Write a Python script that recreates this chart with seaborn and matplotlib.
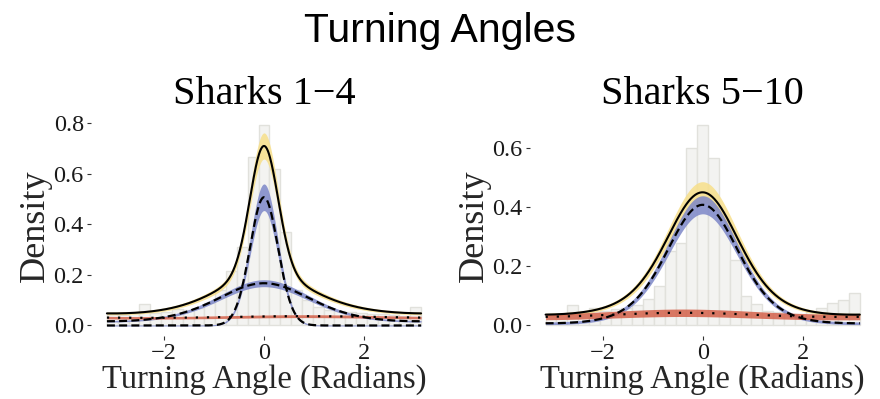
import numpy as np
import pandas as pd
import matplotlib
matplotlib.use("Agg")
import matplotlib.pyplot as plt
import seaborn as sns

# ---------------- data ----------------
panel_titles = ["Sharks 1\u22124", "Sharks 5\u221210"]
x_ticks = [-2, 0, 2]
y_ticks_1 = [0.0, 0.2, 0.4, 0.6, 0.8]
y_ticks_2 = [0.0, 0.2, 0.4, 0.6]

# histogram densities, 29 bins centred on 0 spanning [-pi, pi]
hist_density_1 = [0.045, 0.042, 0.048, 0.085, 0.050, 0.055, 0.065, 0.060, 0.070, 0.090,
                  0.140, 0.216, 0.312, 0.668, 0.793, 0.619, 0.371, 0.140, 0.100, 0.075,
                  0.060, 0.058, 0.055, 0.050, 0.045, 0.045, 0.040, 0.038, 0.072]
hist_density_2 = [0.035, 0.040, 0.068, 0.042, 0.060, 0.050, 0.055, 0.060, 0.070, 0.090,
                  0.135, 0.250, 0.280, 0.600, 0.677, 0.566, 0.338, 0.220, 0.100, 0.073,
                  0.050, 0.045, 0.040, 0.040, 0.045, 0.060, 0.075, 0.085, 0.109]

# fitted von Mises mixture components: weight, mean, concentration, band (rel, abs)
comp_kind_1 = ["blue", "blue", "red"]
comp_weight_1 = [0.359, 0.452, 0.21]
comp_mu_1 = [0.0, 0.0, 0.8]
comp_kappa_1 = [12.8, 1.15, 0.1]
comp_band_rel_1 = [0.10, 0.07, 0.10]
comp_band_abs_1 = [0.002, 0.002, 0.002]
total_band_rel_1 = 0.07
total_band_abs_1 = 0.002

comp_kind_2 = ["blue", "red"]
comp_weight_2 = [0.79, 0.223]
comp_mu_2 = [0.0, -0.4]
comp_kappa_2 = [2.0, 0.2]
comp_band_rel_2 = [0.065, 0.20]
comp_band_abs_2 = [0.004, 0.004]
total_band_rel_2 = 0.075
total_band_abs_2 = 0.002

# ---------------- style ----------------
sns.set_theme(style="white")
plt.rcParams["font.family"] = ["Liberation Serif", "DejaVu Serif"]
plt.rcParams["axes.unicode_minus"] = True

HIST_FILL = "#f3f3f1"
HIST_EDGE = "#e1e1dc"
BAND_COL = {"blue": "#7d87c8", "red": "#d4614a"}
LINE_STYLE = {"blue": (0, (3.6, 1.9)), "red": (0, (1, 4))}
TOTAL_BAND = "#f7df8a"

fig = plt.figure(figsize=(8.8, 3.99), dpi=100)
W, H = 880, 399


def vonmises(x, mu, k):
    return np.exp(k * np.cos(x - mu)) / (2 * np.pi * np.i0(k))


def draw_panel(ax, title, dens, kinds, weights, mus, kappas, rels, abss,
               trel, tabs, yticks):
    n = len(dens)
    edges = np.linspace(-np.pi, np.pi, n + 1)
    centers = 0.5 * (edges[:-1] + edges[1:])
    df = pd.DataFrame({"angle": centers, "density": dens})
    sns.histplot(data=df, x="angle", weights="density", bins=n,
                 binrange=(-np.pi, np.pi), stat="count",
                 ax=ax, color=HIST_FILL, edgecolor=HIST_EDGE, linewidth=1.0,
                 alpha=1.0)

    xs = np.linspace(-np.pi, np.pi, 600)
    comps = [w * vonmises(xs, m, k) for w, m, k in zip(weights, mus, kappas)]
    total = np.sum(comps, axis=0)

    # bands
    ax.fill_between(xs, total * (1 - trel) - tabs, total * (1 + trel) + tabs,
                    color=TOTAL_BAND, alpha=0.85, linewidth=0, zorder=3)
    for c, kind, r, a in zip(comps, kinds, rels, abss):
        ax.fill_between(xs, c * (1 - r) - a, c * (1 + r) + a,
                        color=BAND_COL[kind], alpha=0.85, linewidth=0, zorder=4)
    # lines
    for c, kind in zip(comps, kinds):
        sns.lineplot(x=xs, y=c, ax=ax, color="black", linewidth=1.6,
                     linestyle=LINE_STYLE[kind], estimator=None, sort=False,
                     zorder=6)
    sns.lineplot(x=xs, y=total, ax=ax, color="black", linewidth=1.5,
                 estimator=None, sort=False, zorder=7)

    span = 2 * np.pi
    ax.set_xlim(-np.pi - 0.05 * span, np.pi + 0.05 * span)
    top = max(dens)
    ax.set_ylim(-0.05 * top, 1.05 * top)
    ax.set_xticks(x_ticks)
    ax.set_yticks(yticks)
    ax.set_yticklabels([f"{v:.1f}" for v in yticks])
    for s in ax.spines.values():
        s.set_visible(False)
    ax.tick_params(axis="both", which="both", length=2.8, width=0.8,
                   color="#333333", pad=2.5, labelsize=17.5,
                   labelcolor="#1a1a1a", bottom=True, left=True)
    ax.set_title(title, fontsize=29, pad=8, color="black")
    ax.set_xlabel("Turning Angle (Radians)", fontsize=23.5, labelpad=0)
    ax.set_ylabel("Density", fontsize=26, labelpad=1)
    ax.grid(False)


ax1 = fig.add_axes([91.2 / W, (H - 335.5) / H, 345.6 / W, 220.5 / H])
ax2 = fig.add_axes([529.9 / W, (H - 335.5) / H, 345.6 / W, 220.5 / H])

draw_panel(ax1, panel_titles[0], hist_density_1, comp_kind_1, comp_weight_1,
           comp_mu_1, comp_kappa_1, comp_band_rel_1, comp_band_abs_1,
           total_band_rel_1, total_band_abs_1, y_ticks_1)
draw_panel(ax2, panel_titles[1], hist_density_2, comp_kind_2, comp_weight_2,
           comp_mu_2, comp_kappa_2, comp_band_rel_2, comp_band_abs_2,
           total_band_rel_2, total_band_abs_2, y_ticks_2)

fig.text(0.5, 1 - 31 / H, "Turning Angles", ha="center", va="center",
         fontsize=29.5, family=["Liberation Sans", "DejaVu Sans"], color="black")

fig.savefig("out.png", dpi=100, facecolor="white")
